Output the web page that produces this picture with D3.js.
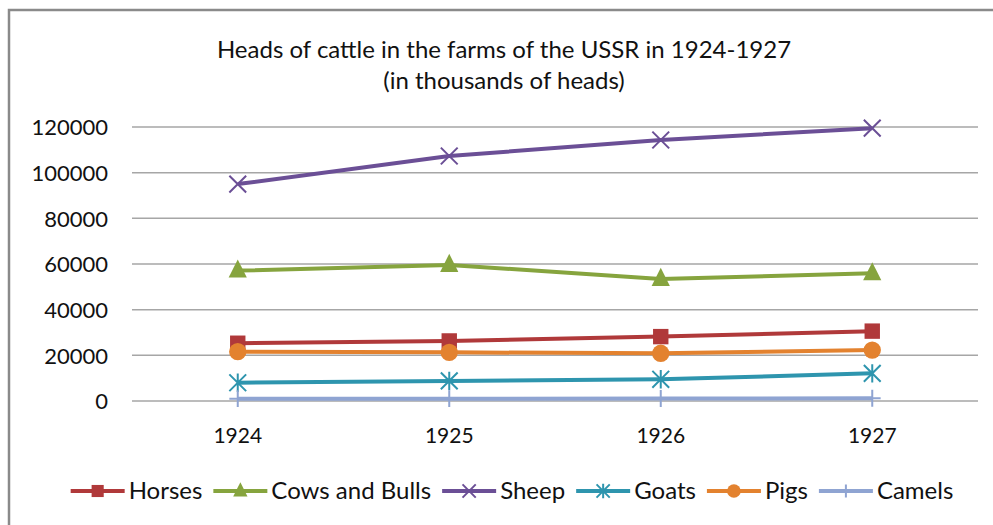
<!DOCTYPE html>
<html><head><meta charset="utf-8">
<script src="https://cdn.jsdelivr.net/npm/d3@7"></script>
<style>body{margin:0;background:#fff;}svg{display:block;font-family:"Lato","Open Sans",sans-serif;}</style>
</head><body>
<svg id="c" width="993" height="525"></svg>
<script>
const years = ["1924","1925","1926","1927"];
const horses = [25300, 26300, 28200, 30600];
const cows = [57100, 59600, 53400, 55900];
const sheep = [95000, 107300, 114300, 119500];
const goats = [8000, 8800, 9500, 12100];
const pigs = [21600, 21300, 20900, 22300];
const camels = [1000, 1000, 1100, 1200];
const yTicks = [0, 20000, 40000, 60000, 80000, 100000, 120000];

const series = [
  {name:"Horses", values:horses, color:"#b0393a", marker:"square"},
  {name:"Cows and Bulls", values:cows, color:"#86a43e", marker:"triangle"},
  {name:"Sheep", values:sheep, color:"#6b4f96", marker:"x"},
  {name:"Goats", values:goats, color:"#2e95ae", marker:"star"},
  {name:"Pigs", values:pigs, color:"#e3822f", marker:"circle"},
  {name:"Camels", values:camels, color:"#8fa4d2", marker:"plus"}
];

const svg = d3.select("#c");
svg.append("rect").attr("x",9).attr("y",10).attr("width",1000).attr("height",540)
  .attr("fill","none").attr("stroke","#8a8a8a").attr("stroke-width",2.5);

const x = d3.scaleBand().domain(years).range([132,978]);
const y = d3.scaleLinear().domain([0,120000]).range([401,127]);

svg.append("text").attr("x",504).attr("y",58).attr("text-anchor","middle")
  .attr("font-size",24).attr("fill","#111").text("Heads of cattle in the farms of the USSR in 1924-1927");
svg.append("text").attr("x",504).attr("y",89).attr("text-anchor","middle")
  .attr("font-size",24).attr("fill","#111").text("(in thousands of heads)");

svg.append("g").selectAll("line").data(yTicks).join("line")
  .attr("x1",132).attr("x2",978).attr("y1",d=>y(d)).attr("y2",d=>y(d))
  .attr("stroke","#a6a6a6").attr("stroke-width",1.5);

const yAxis = d3.axisLeft(y).tickValues(yTicks).tickSize(0).tickPadding(0).tickFormat(d3.format("d"));
const gy = svg.append("g").attr("transform","translate(108,0)").call(yAxis);
gy.select(".domain").remove();
gy.selectAll("text").attr("font-size",22).attr("fill","#111").attr("font-family","Lato, 'Open Sans', sans-serif").attr("dy","0.35em");

const xAxis = d3.axisBottom(x).tickSize(0).tickPadding(0);
const gx = svg.append("g").attr("transform","translate(0,428)").call(xAxis);
gx.select(".domain").remove();
gx.selectAll("text").attr("font-size",21).attr("fill","#111").attr("font-family","Lato, 'Open Sans', sans-serif").attr("dy","0.71em");

function drawMarker(g, type, color, cx, cy, s) {
  if (type==="square") {
    g.append("rect").attr("x",cx-s*0.55).attr("y",cy-s*0.55).attr("width",s*1.1).attr("height",s*1.1).attr("fill",color);
  } else if (type==="triangle") {
    g.append("path").attr("d",`M${cx},${cy-s*0.8}L${cx+s*0.65},${cy+s*0.5}L${cx-s*0.65},${cy+s*0.5}Z`).attr("fill",color);
  } else if (type==="circle") {
    g.append("circle").attr("cx",cx).attr("cy",cy).attr("r",s*0.62).attr("fill",color);
  } else if (type==="x") {
    const r=s*0.6;
    g.append("path").attr("d",`M${cx-r},${cy-r}L${cx+r},${cy+r}M${cx-r},${cy+r}L${cx+r},${cy-r}`).attr("stroke",color).attr("stroke-width",2).attr("fill","none");
  } else if (type==="star") {
    const r=s*0.6;
    g.append("path").attr("d",`M${cx-r},${cy-r}L${cx+r},${cy+r}M${cx-r},${cy+r}L${cx+r},${cy-r}M${cx},${cy-r*1.1}L${cx},${cy+r*1.1}`).attr("stroke",color).attr("stroke-width",2).attr("fill","none");
  } else if (type==="plus") {
    const r=s*0.6;
    g.append("path").attr("d",`M${cx-r},${cy}L${cx+r},${cy}M${cx},${cy-r}L${cx},${cy+r}`).attr("stroke",color).attr("stroke-width",2).attr("fill","none");
  }
}

const line = d3.line().x((d,i)=>x(years[i])+x.bandwidth()/2).y(d=>y(d));
series.forEach(s=>{
  const g = svg.append("g");
  g.append("path").datum(s.values).attr("d",line).attr("fill","none")
    .attr("stroke",s.color).attr("stroke-width",4).attr("stroke-linejoin","round");
  s.values.forEach((v,i)=>drawMarker(g,s.marker,s.color,x(years[i])+x.bandwidth()/2,y(v),14));
});

const lg = svg.append("g");
const items = [];
series.forEach(s=>{
  const g = lg.append("g");
  g.append("line").attr("x1",0).attr("x2",54).attr("y1",0).attr("y2",0).attr("stroke",s.color).attr("stroke-width",4);
  drawMarker(g,s.marker,s.color,27,0,11);
  const t = g.append("text").attr("x",58).attr("y",0).attr("dy","0.35em").attr("font-size",24).attr("fill","#111").text(s.name);
  const w = 58 + t.node().getComputedTextLength();
  items.push({g,w});
});
const gap = 11;
const total = d3.sum(items,d=>d.w) + gap*(items.length-1);
let cursor = 512 - total/2;
items.forEach(it=>{ it.g.attr("transform",`translate(${cursor},491)`); cursor += it.w + gap; });
</script>
</body></html>
